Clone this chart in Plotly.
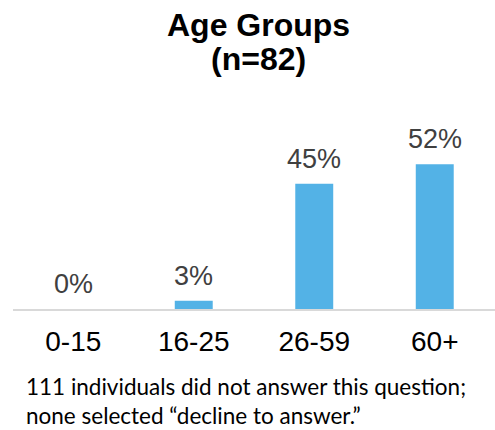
import plotly.graph_objects as go

# Survey responses by age group (percent of n=82)
age_groups = ["0-15", "16-25", "26-59", "60+"]
percentages = [0, 3, 45, 52]

title_lines = ["<b>Age Groups</b>", "<b>(n=82)</b>"]
footnote_lines = [
    "111 individuals did not answer this question;",
    "none selected \u201cdecline to answer.\u201d",
]

ARIAL = "Liberation Sans, Arial"

fig = go.Figure(
    go.Bar(
        x=age_groups,
        y=percentages,
        marker=dict(color="#53b2e6", line=dict(width=0)),
        width=0.315,
        hoverinfo="x+y",
    )
)

annotations = []
# value labels above each bar
for cat, val in zip(age_groups, percentages):
    annotations.append(
        dict(
            text=f"{val}%", x=cat, y=val, xref="x", yref="y",
            xanchor="center", yanchor="bottom", yshift=8, showarrow=False,
            font=dict(family=ARIAL, size=27, color="#404040"),
        )
    )
# two-line bold title
for text, ypos in zip(title_lines, [1.70, 1.497]):
    annotations.append(
        dict(
            text=text, xref="paper", yref="paper", x=0.510, y=ypos,
            xanchor="center", yanchor="middle", showarrow=False,
            font=dict(family=ARIAL, size=32, color="black"),
        )
    )
# footnote anchored to the bottom edge of the page
annotations.append(
    dict(
        text="<br>".join(footnote_lines), xref="paper", yref="paper",
        x=0.025, y=-0.7246, xanchor="left", yanchor="bottom", align="left",
        showarrow=False, borderpad=0,
        font=dict(family="Lato, Open Sans", size=22.5, color="black"),
    )
)

fig.update_layout(
    width=495,
    height=430,
    margin=dict(l=13, r=0, t=142, b=121),
    plot_bgcolor="white",
    paper_bgcolor="white",
    showlegend=False,
    xaxis=dict(
        showline=True,
        linecolor="#d9d9d9",
        linewidth=2,
        showgrid=False,
        ticks="",
        ticklabelstandoff=6,
        tickfont=dict(family=ARIAL, size=28, color="black"),
    ),
    yaxis=dict(
        range=[0, 60],
        visible=False,
        showgrid=False,
        zeroline=False,
    ),
    annotations=annotations,
)

fig.write_html("out.html")
